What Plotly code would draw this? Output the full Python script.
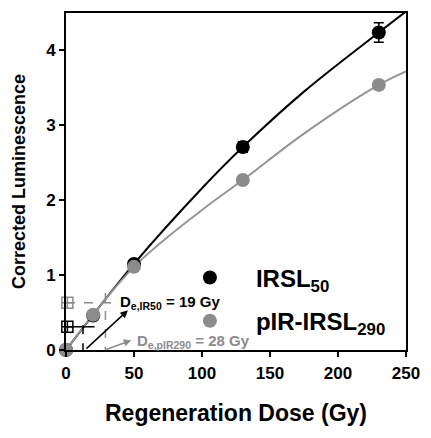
import plotly.graph_objects as go

# ---- data ----
dose = [0, 20, 50, 130, 230]
irsl50 = [0, 0.46, 1.15, 2.71, 4.24]
irsl50_err = [0.02, 0.03, 0.04, 0.07, 0.13]
pirirsl290 = [0, 0.47, 1.11, 2.27, 3.54]
pirirsl290_err = [0.02, 0.02, 0.03, 0.03, 0.06]

fit_dose = [0, 50, 100, 130, 175, 230, 250]
fit_irsl50 = [0, 1.15, 2.16, 2.71, 3.45, 4.24, 4.52]
fit_pir290 = [0, 1.11, 1.87, 2.27, 2.89, 3.54, 3.72]

# natural signals (Ln/Tn) and equivalent doses (construction lines)
ln_irsl50 = 0.31
ln_pir290 = 0.63
de_line_irsl50 = 12.5      # dashed vertical position as drawn
de_line_pir290 = 29.0
de_label_irsl50 = "D<sub>e,IR50</sub> = 19 Gy"
de_label_pir290 = "D<sub>e,pIR290</sub> = 28 Gy"

BLACK = "#000000"
GREY = "#8c8c8c"
FONT = "Liberation Sans, Arial, sans-serif"

fig = go.Figure()

# fitted curves
fig.add_trace(go.Scatter(x=fit_dose, y=fit_irsl50, mode="lines", line=dict(color=BLACK, width=2, shape="spline"),
                         showlegend=False, hoverinfo="skip"))
fig.add_trace(go.Scatter(x=fit_dose, y=fit_pir290, mode="lines", line=dict(color="#959595", width=2, shape="spline"),
                         showlegend=False, hoverinfo="skip"))

# construction lines
fig.add_trace(go.Scatter(x=[0, 21], y=[ln_irsl50, ln_irsl50], mode="lines", line=dict(color=BLACK, width=1.5),
                         showlegend=False, hoverinfo="skip", cliponaxis=False))
fig.add_trace(go.Scatter(x=[de_line_irsl50, de_line_irsl50], y=[ln_irsl50 + 0.02, 0], mode="lines",
                         line=dict(color=BLACK, width=1.5, dash="dash"), showlegend=False, hoverinfo="skip"))
fig.add_trace(go.Scatter(x=[0, 38], y=[ln_pir290, ln_pir290], mode="lines", line=dict(color=GREY, width=1.5, dash="dash"),
                         showlegend=False, hoverinfo="skip", cliponaxis=False))
fig.add_trace(go.Scatter(x=[de_line_pir290, de_line_pir290], y=[0.76, 0], mode="lines",
                         line=dict(color=GREY, width=1.5, dash="dash"), showlegend=False, hoverinfo="skip"))
fig.add_trace(go.Scatter(x=[1], y=[ln_irsl50], mode="markers",
                         marker=dict(symbol="square-cross-open", size=11, color=BLACK, line=dict(width=1.5)),
                         showlegend=False, hoverinfo="skip", cliponaxis=False))
fig.add_trace(go.Scatter(x=[1], y=[ln_pir290], mode="markers",
                         marker=dict(symbol="square-cross-open", size=11, color=GREY, line=dict(width=1.5)),
                         showlegend=False, hoverinfo="skip", cliponaxis=False))

# data points
fig.add_trace(go.Scatter(x=dose, y=irsl50, mode="markers", name="IRSL<sub>50</sub>",
                         marker=dict(color=BLACK, size=14),
                         error_y=dict(type="data", array=irsl50_err, color=BLACK, thickness=1.5, width=5),
                         cliponaxis=False, legendgroup="a"))
fig.add_trace(go.Scatter(x=dose, y=pirirsl290, mode="markers", name="pIR-IRSL<sub>290</sub>",
                         marker=dict(color=GREY, size=14),
                         error_y=dict(type="data", array=pirirsl290_err, color=GREY, thickness=1.5, width=5),
                         cliponaxis=False, legendgroup="b"))

# De labels with arrows
fig.add_annotation(x=45.5, y=0.53, ax=13.9, ay=0, xref="x", yref="y", axref="x", ayref="y",
                   showarrow=True, arrowhead=2, arrowsize=1, arrowwidth=1.5, arrowcolor=BLACK, text="")
fig.add_annotation(x=48, y=0.13, ax=28.5, ay=0, xref="x", yref="y", axref="x", ayref="y",
                   showarrow=True, arrowhead=2, arrowsize=1, arrowwidth=1.5, arrowcolor=GREY, text="")
fig.add_annotation(x=38, y=0.63, xref="x", yref="y", text=de_label_irsl50, showarrow=False,
                   xanchor="left", yanchor="middle", font=dict(family=FONT, size=15, color=BLACK, weight="bold"))
fig.add_annotation(x=50.5, y=0.12, xref="x", yref="y", text=de_label_pir290, showarrow=False,
                   xanchor="left", yanchor="middle", font=dict(family=FONT, size=15, color=GREY, weight="bold"))

axis_common = dict(showline=True, linecolor=BLACK, linewidth=2, mirror=True, showgrid=False, zeroline=False,
                   ticks="outside", ticklen=5, tickwidth=2, tickcolor=BLACK,
                   tickfont=dict(family=FONT, size=17, color=BLACK, weight="bold"))

fig.update_layout(
    width=431, height=438,
    margin=dict(l=66, r=23, t=11, b=88),
    plot_bgcolor="white", paper_bgcolor="white",
    font=dict(family=FONT, color=BLACK),
    xaxis=dict(range=[0, 250], tickvals=[0, 50, 100, 150, 200, 250], **axis_common, ticklabelstandoff=2,
               title=dict(text="Regeneration Dose (Gy)", font=dict(family=FONT, size=23, weight="bold"), standoff=22)),
    yaxis=dict(range=[0, 4.5], tickvals=[0, 1, 2, 3, 4], **axis_common,
               title=dict(text="Corrected Luminescence", font=dict(family=FONT, size=18, weight="bold"), standoff=16)),
    legend=dict(x=0.288, y=0.15, xanchor="left", yanchor="middle", bgcolor="rgba(0,0,0,0)",
                font=dict(family=FONT, size=24, color=BLACK, weight="bold"), itemwidth=82,
                tracegroupgap=9, traceorder="grouped"),
    showlegend=True,
)

fig.write_html("out.html")
